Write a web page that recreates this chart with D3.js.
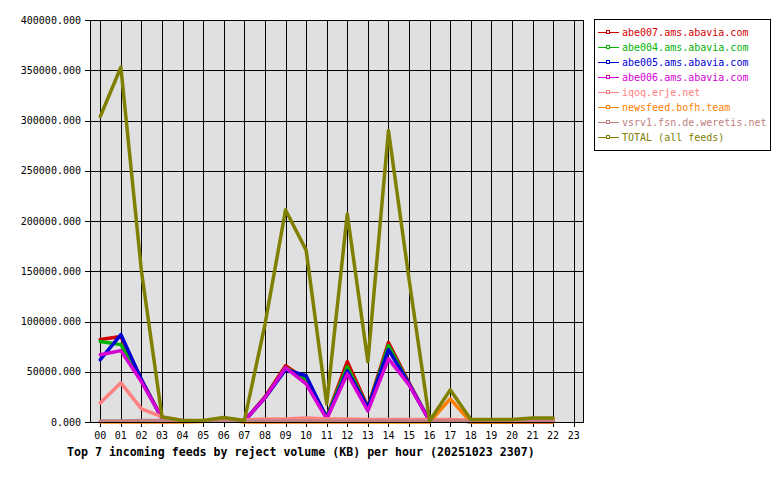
<!DOCTYPE html>
<html><head><meta charset="utf-8">
<script src="https://cdn.jsdelivr.net/npm/d3@7"></script>
<style>
html,body{margin:0;padding:0;background:#fff;}
svg{display:block;}
text{font-family:"DejaVu Sans Mono","Liberation Mono",monospace;}
</style></head>
<body>
<svg id="chart" width="780" height="480"></svg>
<script>
const hours = ["00","01","02","03","04","05","06","07","08","09","10","11","12","13","14","15","16","17","18","19","20","21","22","23"];
const yTicks = [0,50000,100000,150000,200000,250000,300000,350000,400000];
const title = "Top 7 incoming feeds by reject volume (KB) per hour (20251023 2307)";

const seriesNames = ["abe007.ams.abavia.com","abe004.ams.abavia.com","abe005.ams.abavia.com","abe006.ams.abavia.com","iqoq.erje.net","newsfeed.bofh.team","vsrv1.fsn.de.weretis.net","TOTAL (all feeds)"];
const seriesColors = ["#d40000","#00b400","#0000d4","#d400d4","#ff8080","#ff8000","#c08080","#808000"];

const abe007 = [82000,85000,42000,4000,800,800,1000,1000,25000,56000,42000,5000,60000,15000,79000,39000,1000,1500,500,500,500,500,500,null];
const abe004 = [80000,77000,41000,4000,800,800,1000,1000,24000,54000,43000,5000,55000,14000,76000,38000,1000,1500,500,500,500,500,500,null];
const abe005 = [62000,87000,42000,3000,800,800,1000,1000,24000,52000,46000,4000,51000,14000,72000,38000,1000,1500,500,500,500,500,500,null];
const abe006 = [67000,71000,40000,4000,800,800,1000,1000,24000,54000,38000,3000,48000,11000,63000,37000,1000,2000,500,500,500,500,500,null];
const iqoq   = [19000,39000,13000,5000,1500,1200,1500,2000,3000,3000,4000,3000,3000,2500,2500,2500,2500,2500,2000,2000,2000,2000,2000,null];
const bofh   = [0,0,0,0,0,500,2500,0,0,0,0,0,0,0,0,0,0,23000,0,0,0,0,0,null];
const vsrv1  = [1000,1000,1500,1500,1000,1000,1000,1000,1000,1000,1000,1000,1000,1000,1000,1000,1000,1000,1000,1000,1000,1500,1500,null];
const total  = [304000,353000,150000,5000,1500,1500,4500,1500,97000,211000,171000,18000,207000,60000,290000,142000,1000,32000,2500,2500,2500,4000,4000,null];

const seriesValues = [abe007,abe004,abe005,abe006,iqoq,bofh,vsrv1,total];

const svg = d3.select("#chart");
const L = 90, R = 584, T = 20, B = 422;

const x = d3.scalePoint().domain(hours).range([L, R]).padding(0.5);
const y = d3.scaleLinear().domain([0, 400000]).range([B, T]);

svg.append("rect").attr("x", L).attr("y", T).attr("width", R - L).attr("height", B - T)
  .attr("fill", "#e0e0e0");

const g = svg.append("g").attr("shape-rendering", "crispEdges");
g.selectAll("line.h").data(yTicks).join("line")
  .attr("x1", L - 5).attr("x2", R).attr("y1", d => Math.round(y(d)) + 0.5).attr("y2", d => Math.round(y(d)) + 0.5)
  .attr("stroke", "#000").attr("stroke-width", 1);
g.selectAll("line.v").data(hours).join("line")
  .attr("x1", d => Math.round(x(d)) + 0.5).attr("x2", d => Math.round(x(d)) + 0.5)
  .attr("y1", T).attr("y2", B + 5)
  .attr("stroke", "#000").attr("stroke-width", 1);

svg.append("g").selectAll("text").data(yTicks).join("text")
  .attr("x", 81).attr("y", d => y(d)).attr("dy", "0.35em")
  .attr("text-anchor", "end").attr("font-size", "10px").attr("fill", "#000")
  .text(d => d3.format(".3f")(d));

svg.append("g").selectAll("text").data(hours).join("text")
  .attr("x", d => x(d)).attr("y", 439)
  .attr("text-anchor", "middle").attr("font-size", "10px").attr("fill", "#000")
  .text(d => d);

const line = d3.line()
  .defined(d => d[1] !== null)
  .x(d => x(d[0])).y(d => y(d[1]));

seriesValues.forEach((vals, i) => {
  svg.append("path")
    .datum(hours.map((h, j) => [h, vals[j]]))
    .attr("d", line)
    .attr("fill", "none")
    .attr("stroke", seriesColors[i])
    .attr("stroke-width", 3.5)
    .attr("stroke-linejoin", "round")
    .attr("stroke-linecap", "round");
});

svg.append("rect").attr("x", L + 0.5).attr("y", T + 0.5).attr("width", R - L - 1).attr("height", B - T)
  .attr("fill", "none").attr("stroke", "#000").attr("shape-rendering", "crispEdges");

svg.append("text").attr("x", 67).attr("y", 456)
  .attr("font-size", "11.6px").attr("font-weight", "bold").attr("fill", "#000")
  .text(title);

const lg = svg.append("g");
lg.append("rect").attr("x", 594.5).attr("y", 19.5).attr("width", 176).attr("height", 131)
  .attr("fill", "#fff").attr("stroke", "#000").attr("shape-rendering", "crispEdges");
seriesNames.forEach((name, i) => {
  const cy = 32 + i * 15;
  lg.append("line").attr("x1", 598).attr("x2", 619).attr("y1", cy + 0.5).attr("y2", cy + 0.5)
    .attr("stroke", seriesColors[i]).attr("stroke-width", 1).attr("shape-rendering", "crispEdges");
  lg.append("rect").attr("x", 606.5).attr("y", cy - 1.5).attr("width", 3).attr("height", 3)
    .attr("fill", "#fff").attr("stroke", seriesColors[i]).attr("stroke-width", 1).attr("shape-rendering", "crispEdges");
  lg.append("text").attr("x", 622).attr("y", cy).attr("dy", "0.35em")
    .attr("font-size", "10px").attr("fill", seriesColors[i]).text(name);
});
</script>
</body></html>
